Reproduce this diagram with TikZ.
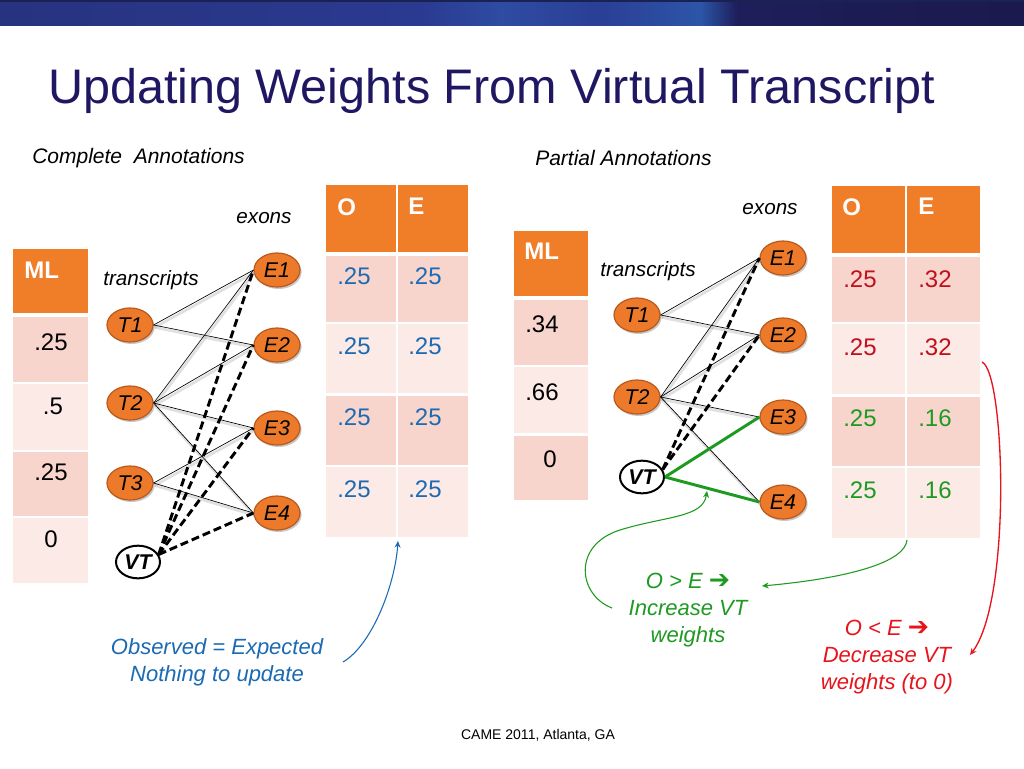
\documentclass[tikz,border=0pt]{standalone}
\usepackage{fontspec}
\setmainfont{Liberation Sans}
\newfontfamily\symfont{DejaVu Sans}
\usetikzlibrary{arrows.meta,shapes.geometric,shadows}
\definecolor{hdrorange}{HTML}{F07D28}
\definecolor{rowdark}{HTML}{F8D5CC}
\definecolor{rowlight}{HTML}{FBEAE6}
\definecolor{nodeorange}{HTML}{EC7A2A}
\definecolor{nodeborder}{HTML}{B9591C}
\definecolor{titleblue}{HTML}{1F1762}
\definecolor{valblue}{HTML}{1B6AB3}
\definecolor{valred}{HTML}{C0101E}
\definecolor{valgreen}{HTML}{1E9A22}
\definecolor{brightred}{HTML}{E8141C}
\definecolor{linegreen}{HTML}{1E9A1E}
\definecolor{bA}{HTML}{28337F}
\definecolor{bB}{HTML}{2A3A90}
\definecolor{bC}{HTML}{2E4CA2}
\definecolor{bD}{HTML}{2A3F96}
\definecolor{bE}{HTML}{2C55A8}
\definecolor{bF}{HTML}{1E1E5A}
\definecolor{bG}{HTML}{1A1A4E}
\pgfdeclarehorizontalshading{bandshade}{100bp}{color(0bp)=(bA); color(25bp)=(bA); color(45.5bp)=(bB); color(49.4bp)=(bC); color(54.3bp)=(bD); color(59.2bp)=(bE); color(61bp)=(bF); color(75bp)=(bG); color(100bp)=(bG)}
\begin{document}
\begin{tikzpicture}[x=0.75pt,y=-0.75pt,
  tnode/.style={ellipse, draw=nodeborder, line width=0.9pt, fill=nodeorange,
    minimum width=34.5pt, minimum height=25.5pt, inner sep=0pt,
    font=\fontsize{16}{18}\selectfont\itshape,
    drop shadow={shadow xshift=1.2pt,shadow yshift=-1.5pt,opacity=0.3,fill=black!70}},
  vtnode/.style={ellipse, draw=black, line width=1.5pt, fill=white,
    minimum width=33pt, minimum height=24.5pt, inner sep=0pt,
    font=\fontsize{16}{18}\selectfont\itshape\bfseries},
  edge/.style={line width=0.5pt,
    preaction={draw=black!40, line width=2pt, opacity=0.3,
      transform canvas={xshift=0.8pt,yshift=-1.8pt}}},
  vtedge/.style={line width=2.2pt, dash pattern=on 6pt off 3pt},
  greenedge/.style={draw=linegreen, line width=2.2pt},
  cellval/.style={anchor=north west, inner sep=0pt, font=\fontsize{18}{20}\selectfont},
  cellmid/.style={anchor=north, inner sep=0pt, font=\fontsize{18}{20}\selectfont},
  hdrtxt/.style={anchor=north west, inner sep=0pt, text=white, font=\fontsize{18}{20}\selectfont\bfseries},
  lbl/.style={inner sep=0pt, font=\fontsize{15.5}{18}\selectfont\itshape},
  note/.style={align=center, inner sep=0pt, font=\fontsize{16.5}{20.5}\selectfont\itshape},
  thinarrow/.style={line width=0.8pt, -{Stealth[length=5pt,width=4.5pt]}}
]
\useasboundingbox (0,0) rectangle (1024,768);
\fill[white] (0,0) rectangle (1024,768);
% header band
\shade[shading=bandshade] (0,0) rectangle (1024,25);
\fill[black!35!bA] (0,0) rectangle (1024,1.5);

% title
\node[anchor=base west, inner sep=0pt, text=titleblue, font=\fontsize{36.4}{40}\selectfont] (title) at (48,103) {Updating Weights From Virtual Transcript};
\node[anchor=west, inner sep=0pt, font=\fontsize{15.75}{18}\selectfont\itshape] (complete) at (32,158) {Complete\ \ Annotations};
\node[anchor=west, inner sep=0pt, font=\fontsize{15.75}{18}\selectfont\itshape] (partial) at (535,158) {Partial Annotations};

% ---------- left ML table
\fill[hdrorange] (13,249) rectangle (88,313);
\fill[rowdark] (13,317) rectangle (88,382);
\fill[rowlight] (13,384) rectangle (88,450);
\fill[rowdark] (13,452) rectangle (88,516);
\fill[rowlight] (13,518) rectangle (88,583);
\node[hdrtxt] (lMLh) at (24,262) {ML};
\node[cellmid] (lML1) at (51,333) {.25};
\node[cellmid] (lML2) at (53,398) {.5};
\node[cellmid] (lML3) at (51,463) {.25};
\node[cellmid] (lML4) at (51,530) {0};

% ---------- left OE table
\fill[hdrorange] (326,185) rectangle (396,252);
\fill[hdrorange] (398,185) rectangle (468,252);
\fill[rowdark] (326,256) rectangle (396,322);
\fill[rowdark] (398,256) rectangle (468,322);
\fill[rowlight] (326,324) rectangle (396,393);
\fill[rowlight] (398,324) rectangle (468,393);
\fill[rowdark] (326,396) rectangle (396,465);
\fill[rowdark] (398,396) rectangle (468,465);
\fill[rowlight] (326,467) rectangle (396,537);
\fill[rowlight] (398,467) rectangle (468,537);
\node[hdrtxt] (lOh) at (337,198) {O};
\node[hdrtxt] (lEh) at (408,198) {E};
\node[cellval,text=valblue] (lO1) at (337,267) {.25};
\node[cellval,text=valblue] (lE1v) at (408,267) {.25};
\node[cellval,text=valblue] (lO2) at (337,337) {.25};
\node[cellval,text=valblue] (lE2v) at (408,337) {.25};
\node[cellval,text=valblue] (lO3) at (337,408) {.25};
\node[cellval,text=valblue] (lE3v) at (408,408) {.25};
\node[cellval,text=valblue] (lO4) at (337,480) {.25};
\node[cellval,text=valblue] (lE4v) at (408,480) {.25};

% ---------- right ML table
\fill[hdrorange] (514,231) rectangle (588,296);
\fill[rowdark] (514,300) rectangle (588,365);
\fill[rowlight] (514,367) rectangle (588,433);
\fill[rowdark] (514,436) rectangle (588,500);
\node[hdrtxt] (rMLh) at (524,243) {ML};
\node[cellval] (rML1) at (525,315) {.34};
\node[cellval] (rML2) at (525,383) {.66};
\node[cellval] (rML3) at (543,450) {0};

% ---------- right OE table
\fill[hdrorange] (832,186) rectangle (905,253);
\fill[hdrorange] (907,186) rectangle (980,253);
\fill[rowdark] (832,257) rectangle (905,322);
\fill[rowdark] (907,257) rectangle (980,322);
\fill[rowlight] (832,324) rectangle (905,394);
\fill[rowlight] (907,324) rectangle (980,394);
\fill[rowdark] (832,397) rectangle (905,466);
\fill[rowdark] (907,397) rectangle (980,466);
\fill[rowlight] (832,468) rectangle (905,538);
\fill[rowlight] (907,468) rectangle (980,538);
\node[hdrtxt] (rOh) at (842,198) {O};
\node[hdrtxt] (rEh) at (918,198) {E};
\node[cellval,text=valred] (rO1) at (843,270) {.25};
\node[cellval,text=valred] (rE1v) at (918,270) {.32};
\node[cellval,text=valred] (rO2) at (843,338) {.25};
\node[cellval,text=valred] (rE2v) at (918,338) {.32};
\node[cellval,text=valgreen] (rO3) at (843,409) {.25};
\node[cellval,text=valgreen] (rE3v) at (918,409) {.16};
\node[cellval,text=valgreen] (rO4) at (843,481) {.25};
\node[cellval,text=valgreen] (rE4v) at (918,481) {.16};

% ---------- left graph
\node[lbl] (ltr) at (151,280) {transcripts};
\node[lbl] (lex) at (264,218) {exons};
\node[tnode] (lT1) at (130,325) {T1};
\node[tnode] (lT2) at (130,403) {T2};
\node[tnode] (lT3) at (130,483) {T3};
\node[tnode] (lE1) at (277,270) {E1};
\node[tnode] (lE2) at (277,345) {E2};
\node[tnode] (lE3) at (277,428) {E3};
\node[tnode] (lE4) at (277,513) {E4};
\node[vtnode] (lVT) at (138,562) {VT};
\draw[edge] (lT1.east) -- (lE1.west);
\draw[edge] (lT1.east) -- (lE2.west);
\draw[edge] (lT2.east) -- (lE1.west);
\draw[edge] (lT2.east) -- (lE2.west);
\draw[edge] (lT2.east) -- (lE3.west);
\draw[edge] (lT2.east) -- (lE4.west);
\draw[edge] (lT3.east) -- (lE3.west);
\draw[edge] (lT3.east) -- (lE4.west);
\draw[vtedge] (lVT.20) -- (lE1.west);
\draw[vtedge] (lVT.20) -- (lE2.west);
\draw[vtedge] (lVT.20) -- (lE3.west);
\draw[vtedge] (lVT.20) -- (lE4.west);

% ---------- right graph
\node[lbl] (rtr) at (648,271) {transcripts};
\node[lbl] (rex) at (770,209) {exons};
\node[tnode] (rT1) at (637,315) {T1};
\node[tnode] (rT2) at (637,397) {T2};
\node[tnode] (rE1) at (783,258) {E1};
\node[tnode] (rE2) at (783,335) {E2};
\node[tnode] (rE3) at (783,417) {E3};
\node[tnode] (rE4) at (783,502) {E4};
\node[vtnode] (rVT) at (642,477) {VT};
\draw[edge] (rT1.east) -- (rE1.west);
\draw[edge] (rT1.east) -- (rE2.west);
\draw[edge] (rT2.east) -- (rE1.west);
\draw[edge] (rT2.east) -- (rE2.west);
\draw[edge] (rT2.east) -- (rE3.west);
\draw[edge] (rT2.east) -- (rE4.west);
\draw[vtedge] (rVT.20) -- (rE1.west);
\draw[vtedge] (rVT.20) -- (rE2.west);
\draw[greenedge] (rVT.east) -- (rE3.west);
\draw[greenedge] (rVT.east) -- (rE4.west);

% ---------- notes
\node[note,text=valblue] (blueNote) at (217,662) {Observed = Expected\\Nothing to update};
\node[note,text=valgreen] (greenNote) at (688,610) {O > E {\symfont\upshape\bfseries\fontsize{19}{20}\selectfont ➔}\\Increase VT\\weights};
\node[note,text=brightred] (redNote) at (887,657) {O < E {\symfont\upshape\bfseries\fontsize{19}{20}\selectfont ➔}\\Decrease VT\\weights (to 0)};

\coordinate (blueStart) at (343,662);
\coordinate (blueTip) at (398,541);
\coordinate (g1Start) at (612,608);
\coordinate (g1Mid) at (620,530);
\coordinate (g1Tip) at (707,491);
\coordinate (g2Start) at (907,540);
\coordinate (g2Tip) at (762,586);
\coordinate (redStart) at (982,362);
\coordinate (redTip) at (970,655);

\draw[thinarrow, draw=valblue, -{Stealth[length=5pt,width=4.5pt,fill=valblue]}] (blueStart) .. controls (372,645) and (395,585) .. (blueTip);
\draw[thinarrow, draw=linegreen] (g1Start) .. controls (578,595) and (572,545) .. (g1Mid) .. controls (665,516) and (703,518) .. (g1Tip);
\draw[thinarrow, draw=linegreen] (g2Start) .. controls (905,562) and (850,578) .. (g2Tip);
\draw[thinarrow, draw=brightred, line width=1pt] (redStart) .. controls (1005,372) and (1012,600) .. (redTip);

% footer
\node[anchor=base, inner sep=0pt, font=\fontsize{10.5}{12}\selectfont] (footer) at (538,739) {CAME 2011, Atlanta, GA};
\end{tikzpicture}
\end{document}
